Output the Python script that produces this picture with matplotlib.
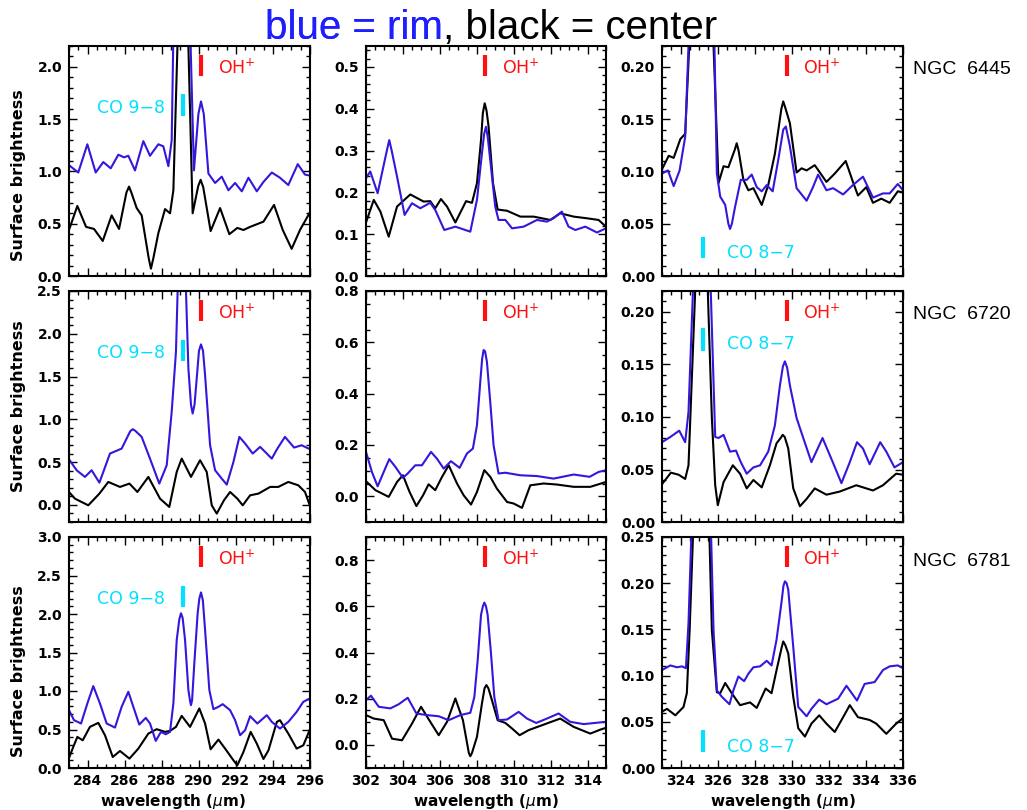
import matplotlib
matplotlib.use('Agg')
import matplotlib.pyplot as plt
from matplotlib.ticker import MultipleLocator, FormatStrFormatter
import matplotlib.transforms as mtransforms

plt.rcParams['font.family'] = ['Liberation Sans', 'DejaVu Sans']
plt.rcParams['mathtext.fontset'] = 'dejavusans'

# ---------------- data (wavelength um, surface brightness) ----------------
objects = ['NGC  6445', 'NGC  6720', 'NGC  6781']
x_ranges = [(283, 296), (302, 315), (323, 336)]
x_tick_labels = [[284, 286, 288, 290, 292, 294, 296],
                 [302, 304, 306, 308, 310, 312, 314],
                 [324, 326, 328, 330, 332, 334, 336]]
y_limits = [[(0, 2.2), (0, 0.55), (0, 0.22)],
            [(-0.2, 2.5), (-0.1, 0.8), (0, 0.22)],
            [(0, 3.0), (-0.1, 0.9), (0, 0.25)]]
y_major = [[0.5, 0.1, 0.05], [0.5, 0.2, 0.05], [0.5, 0.2, 0.05]]
y_minor = [[0.1, 0.02, 0.01], [0.1, 0.05, 0.01], [0.1, 0.05, 0.01]]

oh_lines = [290.12, 308.45, 329.73]
co98_line = 289.13
co87_line = 325.2

# NGC 6445
n6445_a_rim = [(283.00, 1.06), (283.50, 0.99), (283.99, 1.26), (284.44, 0.99), (284.85, 1.09), (285.25, 1.03),
               (285.66, 1.16), (285.97, 1.135), (286.20, 1.15), (286.56, 1.01), (287.01, 1.29), (287.37, 1.15),
               (287.82, 1.26), (288.09, 1.24), (288.36, 1.05), (288.54, 1.30), (288.62, 2.2), (289.08, 3.6),
               (289.56, 2.2), (289.74, 1.01), (289.98, 1.55), (290.12, 1.67), (290.27, 1.55), (290.52, 0.98),
               (290.88, 0.89), (291.24, 0.95),
               (291.60, 0.82), (291.96, 0.89), (292.32, 0.81), (292.68, 0.94), (293.13, 0.81), (293.49, 0.90),
               (293.94, 0.99), (294.38, 0.94), (294.83, 0.87), (295.34, 1.07), (295.73, 0.97), (296.00, 0.96)]
n6445_a_center = [(283.00, 0.44), (283.45, 0.67), (283.92, 0.47), (284.35, 0.45), (284.82, 0.335), (285.30, 0.58),
                  (285.70, 0.45), (286.10, 0.80), (286.24, 0.855), (286.38, 0.79), (286.65, 0.65), (286.92, 0.58),
                  (287.30, 0.17), (287.42, 0.07), (287.55, 0.17), (287.82, 0.41),
                  (288.18, 0.64), (288.45, 0.60), (288.63, 0.82), (288.85, 2.2), (289.13, 3.3), (289.44, 2.2),
                  (289.67, 0.60), (289.97, 0.86), (290.10, 0.92), (290.24, 0.85), (290.64, 0.43), (291.15, 0.65),
                  (291.65, 0.40), (292.08, 0.46),
                  (292.41, 0.44), (292.77, 0.47), (293.49, 0.52), (294.06, 0.68), (294.53, 0.44), (295.01, 0.26),
                  (295.46, 0.44), (296.00, 0.61)]
n6445_b_rim = [(302.00, 0.234), (302.23, 0.25), (302.63, 0.198), (303.13, 0.30), (303.26, 0.325), (303.39, 0.30),
               (303.68, 0.238), (304.09, 0.146),
               (304.49, 0.174), (304.94, 0.162), (305.48, 0.175), (305.75, 0.158), (306.24, 0.11), (306.84, 0.118),
               (307.65, 0.106), (308.01, 0.182), (308.28, 0.293), (308.40, 0.34), (308.50, 0.357), (308.60, 0.33),
               (308.73, 0.277), (309.00, 0.166),
               (309.18, 0.134), (309.55, 0.134), (309.91, 0.114), (310.54, 0.118), (311.26, 0.134), (311.80, 0.130),
               (312.16, 0.138), (312.61, 0.154), (312.97, 0.118), (313.34, 0.11), (313.88, 0.118), (314.51, 0.104),
               (315.00, 0.114)]
n6445_b_center = [(302.00, 0.128), (302.42, 0.182), (302.78, 0.154), (303.23, 0.094), (303.68, 0.166), (304.40, 0.195),
                  (305.12, 0.178), (305.48, 0.179), (305.75, 0.162), (306.06, 0.184), (306.39, 0.166), (306.84, 0.128),
                  (307.42, 0.179), (307.74, 0.175), (308.01, 0.222), (308.23, 0.325), (308.33, 0.39), (308.43, 0.413),
                  (308.53, 0.395), (308.64, 0.357),
                  (308.88, 0.222), (309.13, 0.159), (309.64, 0.156), (310.36, 0.142), (311.08, 0.142), (311.98, 0.134),
                  (312.52, 0.15), (313.25, 0.142), (313.97, 0.138), (314.60, 0.134), (315.00, 0.118)]
n6445_c_rim = [(323.00, 0.098), (323.32, 0.101), (323.63, 0.086), (323.95, 0.101), (324.25, 0.133), (324.43, 0.22),
               (325.13, 0.60), (325.83, 0.22), (325.96, 0.098), (326.14, 0.076), (326.41, 0.068), (326.58, 0.050),
               (326.67, 0.045), (326.77, 0.050),
               (326.94, 0.066), (327.25, 0.092), (327.57, 0.092), (327.84, 0.097), (328.11, 0.085), (328.38, 0.081),
               (328.65, 0.087), (328.97, 0.081), (329.27, 0.111), (329.54, 0.140), (329.68, 0.143), (329.90, 0.124),
               (330.26, 0.084), (330.80, 0.072), (331.12, 0.084), (331.42, 0.097), (331.87, 0.082), (332.23, 0.084),
               (332.77, 0.078), (333.30, 0.087), (333.84, 0.095), (334.38, 0.075), (334.92, 0.079), (335.28, 0.079),
               (335.72, 0.088), (336.00, 0.082)]
n6445_c_center = [(323.00, 0.102), (323.36, 0.115), (323.63, 0.113), (323.99, 0.131), (324.25, 0.136), (324.47, 0.22),
                  (325.13, 0.50), (325.78, 0.22), (326.05, 0.089), (326.32, 0.105), (326.58, 0.104), (326.93, 0.121),
                  (327.03, 0.127), (327.13, 0.120),
                  (327.39, 0.092), (327.66, 0.082), (327.93, 0.084), (328.38, 0.068), (328.73, 0.087), (329.09, 0.117),
                  (329.44, 0.160), (329.54, 0.167), (329.65, 0.161), (329.90, 0.146), (330.26, 0.099), (330.53, 0.103),
                  (330.80, 0.101), (331.24, 0.106),
                  (331.87, 0.090), (332.32, 0.098), (332.91, 0.110), (333.30, 0.090), (333.57, 0.077), (334.02, 0.085),
                  (334.38, 0.070), (334.83, 0.074), (335.28, 0.070), (335.72, 0.081), (336.00, 0.080)]

# NGC 6720
n6720_a_rim = [(283.00, 0.533), (283.41, 0.405), (283.86, 0.327), (284.22, 0.405), (284.64, 0.26), (285.21, 0.60),
               (285.84, 0.658), (286.30, 0.86), (286.44, 0.885), (286.58, 0.865), (286.92, 0.795), (287.37, 0.54),
               (287.87, 0.249), (288.27, 0.463),
               (288.54, 1.09), (288.77, 1.79), (288.86, 2.5), (289.08, 3.2), (289.31, 2.5), (289.44, 1.595),
               (289.58, 1.17), (289.67, 1.068), (289.77, 1.17), (289.89, 1.478), (290.01, 1.80), (290.12, 1.876),
               (290.23, 1.80), (290.34, 1.517), (290.61, 0.697), (290.88, 0.405),
               (291.24, 0.307), (291.51, 0.237), (291.87, 0.502), (292.19, 0.795), (292.50, 0.717), (292.91, 0.60),
               (293.31, 0.678), (293.94, 0.541), (294.24, 0.658), (294.65, 0.795), (295.14, 0.67), (295.55, 0.697),
               (296.00, 0.65)]
n6720_a_center = [(283.00, 0.151), (283.32, 0.073), (284.04, -0.005), (284.64, 0.132), (285.12, 0.268), (285.75, 0.21),
                  (286.26, 0.249), (286.69, 0.151), (287.28, 0.327), (287.91, 0.073), (288.41, -0.024), (288.81, 0.385),
                  (289.08, 0.541), (289.58, 0.327), (290.07, 0.522), (290.43, 0.385), (290.70, -0.005), (290.97, -0.102),
                  (291.36, 0.054), (291.69, 0.151), (292.08, 0.073), (292.37, -0.005), (292.77, 0.112), (293.22, 0.132),
                  (293.85, 0.21), (294.29, 0.21), (294.83, 0.268), (295.37, 0.229), (295.73, 0.151), (296.00, -0.013)]
n6720_b_rim = [(302.00, 0.173), (302.32, 0.095), (302.63, 0.039), (302.96, 0.095), (303.26, 0.145), (303.59, 0.115),
               (304.00, 0.072), (304.26, 0.089), (304.67, 0.121), (305.03, 0.121), (305.52, 0.173), (305.84, 0.147),
               (306.21, 0.108), (306.60, 0.137), (307.07, 0.111), (307.47, 0.167), (307.79, 0.186), (308.01, 0.277),
               (308.19, 0.446), (308.29, 0.535), (308.37, 0.570), (308.45, 0.565), (308.55, 0.524), (308.73, 0.368),
               (308.91, 0.199), (309.18, 0.089),
               (309.55, 0.092), (310.36, 0.082), (311.26, 0.079), (312.16, 0.069), (313.25, 0.085), (314.11, 0.076),
               (314.60, 0.095), (315.00, 0.102)]
n6720_b_center = [(302.00, 0.059), (302.51, 0.024), (303.23, -0.002), (303.68, 0.056), (304.00, 0.082), (304.36, 0.017),
                  (304.73, -0.038), (305.09, 0.004), (305.39, 0.047), (305.75, 0.024), (306.12, 0.076), (306.48, 0.121),
                  (306.93, 0.050), (307.29, 0.004), (307.69, -0.032), (308.01, 0.017), (308.41, 0.102), (308.73, 0.076),
                  (309.09, 0.030), (309.64, -0.022), (310.00, -0.028), (310.45, -0.045), (310.90, 0.043), (311.62, 0.050),
                  (312.34, 0.046), (313.25, 0.037), (314.15, 0.037), (315.00, 0.056)]
n6720_c_rim = [(323.00, 0.076), (323.45, 0.081), (323.93, 0.087), (324.25, 0.076), (324.43, 0.105), (324.67, 0.22),
               (325.15, 0.50), (325.63, 0.22), (325.87, 0.081), (326.05, 0.080), (326.32, 0.083), (326.67, 0.067),
               (326.99, 0.068), (327.25, 0.057), (327.57, 0.046), (327.93, 0.052), (328.29, 0.054), (328.73, 0.067),
               (329.09, 0.092), (329.36, 0.130), (329.52, 0.148), (329.63, 0.153), (329.75, 0.147), (329.90, 0.130),
               (330.26, 0.099), (330.62, 0.080),
               (331.06, 0.057), (331.66, 0.080), (332.14, 0.060), (332.68, 0.037), (333.13, 0.057), (333.52, 0.076),
               (333.84, 0.070), (334.20, 0.055), (334.77, 0.076), (335.10, 0.067), (335.54, 0.052), (336.00, 0.057)]
n6720_c_center = [(323.00, 0.036), (323.48, 0.047), (323.90, 0.045), (324.25, 0.041), (324.43, 0.054), (324.79, 0.22),
                  (325.15, 0.40), (325.47, 0.22), (325.69, 0.099), (325.87, 0.035), (326.01, 0.016), (326.32, 0.038),
                  (326.82, 0.054), (327.21, 0.046), (327.57, 0.032), (327.93, 0.040), (328.38, 0.033), (328.82, 0.054),
                  (329.18, 0.075), (329.40, 0.080), (329.51, 0.083), (329.62, 0.081), (329.81, 0.070), (330.08, 0.032),
                  (330.44, 0.015), (330.80, 0.022),
                  (331.24, 0.032), (331.87, 0.026), (332.59, 0.029), (333.48, 0.035), (334.38, 0.030), (334.92, 0.035),
                  (335.63, 0.046), (336.00, 0.045)]

# NGC 6781
n6781_a_rim = [(283.00, 0.751), (283.27, 0.621), (283.65, 0.578), (283.99, 0.838), (284.31, 1.064), (284.67, 0.838),
               (285.03, 0.578), (285.48, 0.525), (285.84, 0.795), (286.20, 0.99), (286.47, 0.795), (286.79, 0.564),
               (287.14, 0.651), (287.37, 0.578), (287.68, 0.352), (287.96, 0.469), (288.22, 0.438), (288.45, 0.469),
               (288.63, 0.838), (288.81, 1.663), (288.95, 1.93), (289.04, 2.01), (289.13, 1.95), (289.26, 1.663),
               (289.44, 1.012), (289.53, 0.87), (289.58, 0.816), (289.64, 0.88),
               (289.76, 1.359), (289.94, 2.01), (290.03, 2.2), (290.12, 2.28), (290.22, 2.18), (290.34, 1.793),
               (290.57, 1.012), (290.79, 0.764),
               (291.06, 0.795), (291.29, 0.829), (291.69, 0.751), (291.96, 0.621), (292.23, 0.426), (292.50, 0.491),
               (292.77, 0.673), (293.16, 0.578), (293.67, 0.686), (293.94, 0.599), (294.38, 0.512), (294.83, 0.599),
               (295.28, 0.729), (295.64, 0.86), (296.00, 0.903)]
n6781_a_center = [(283.00, 0.130), (283.23, 0.274), (283.45, 0.404), (283.74, 0.360), (284.13, 0.534), (284.58, 0.586),
                  (284.94, 0.426), (285.36, 0.143), (285.75, 0.221), (286.26, 0.122), (286.74, 0.252), (287.28, 0.447),
                  (287.73, 0.504), (288.18, 0.469), (288.45, 0.482), (288.77, 0.534), (289.08, 0.677), (289.53, 0.534),
                  (290.03, 0.773), (290.34, 0.578), (290.64, 0.243), (291.06, 0.369), (291.42, 0.252), (291.87, 0.100),
                  (292.08, 0.035), (292.41, 0.208), (292.80, 0.469), (293.13, 0.317), (293.49, 0.117), (293.76, 0.230),
                  (294.21, 0.599), (294.38, 0.621), (294.83, 0.447), (295.28, 0.252), (295.64, 0.295), (296.00, 0.504)]
n6781_b_rim = [(302.00, 0.194), (302.27, 0.213), (302.69, 0.165), (303.32, 0.158), (303.77, 0.176), (304.26, 0.204),
               (304.73, 0.136), (305.30, 0.129), (305.94, 0.124), (306.48, 0.107), (307.11, 0.129), (307.65, 0.139),
               (307.87, 0.208), (308.05, 0.367), (308.23, 0.563), (308.33, 0.600), (308.41, 0.616), (308.50, 0.600),
               (308.59, 0.563), (308.77, 0.396),
               (308.95, 0.208), (309.18, 0.107), (309.64, 0.110), (310.27, 0.143), (310.72, 0.114), (311.22, 0.095),
               (311.80, 0.114), (312.43, 0.136), (313.06, 0.100), (313.79, 0.090), (315.00, 0.100)]
n6781_b_center = [(302.00, 0.129), (302.42, 0.114), (302.96, 0.107), (303.41, 0.027), (303.95, 0.020), (304.49, 0.092),
                  (304.98, 0.165), (305.48, 0.100), (305.94, 0.042), (306.39, 0.100), (306.84, 0.201), (307.25, 0.107),
                  (307.57, -0.035), (307.65, -0.049), (307.74, -0.035), (308.01, 0.035), (308.28, 0.179),
                  (308.42, 0.245), (308.52, 0.259), (308.63, 0.245), (308.82, 0.194), (309.13, 0.107),
                  (309.55, 0.095), (309.91, 0.071), (310.32, 0.042), (310.81, 0.064), (311.53, 0.085), (312.52, 0.114),
                  (313.25, 0.078), (314.15, 0.049), (314.69, 0.066), (315.00, 0.074)]
n6781_c_rim = [(323.00, 0.106), (323.45, 0.111), (323.81, 0.109), (324.08, 0.110), (324.29, 0.108), (324.43, 0.157),
               (324.58, 0.25), (325.11, 0.60), (325.65, 0.25), (325.78, 0.149), (325.96, 0.084), (326.23, 0.077),
               (326.64, 0.069), (326.85, 0.084), (327.12, 0.099), (327.43, 0.094), (327.66, 0.102), (327.93, 0.109),
               (328.29, 0.110), (328.65, 0.116), (328.91, 0.111), (329.18, 0.139), (329.45, 0.180), (329.55, 0.197),
               (329.63, 0.202), (329.72, 0.200),
               (329.81, 0.193), (330.08, 0.131), (330.35, 0.066), (330.80, 0.056), (331.06, 0.064), (331.48, 0.074),
               (331.87, 0.069), (332.50, 0.075), (332.95, 0.089), (333.52, 0.073), (333.93, 0.091), (334.47, 0.093),
               (334.92, 0.106), (335.28, 0.110), (335.72, 0.111), (336.00, 0.108)]
n6781_c_center = [(323.00, 0.061), (323.27, 0.064), (323.72, 0.057), (324.16, 0.066), (324.34, 0.081), (324.49, 0.149),
                  (324.67, 0.25), (325.11, 0.50), (325.56, 0.25), (325.69, 0.149), (325.96, 0.082), (326.14, 0.081),
                  (326.41, 0.092), (326.76, 0.081), (327.21, 0.068), (327.75, 0.071), (328.11, 0.065), (328.59, 0.086),
                  (328.91, 0.081), (329.18, 0.106), (329.45, 0.130), (329.54, 0.137), (329.65, 0.133), (329.81, 0.124),
                  (330.08, 0.077), (330.35, 0.043),
                  (330.71, 0.034), (331.06, 0.048), (331.48, 0.057), (331.87, 0.048), (332.32, 0.039), (332.77, 0.055),
                  (333.13, 0.068), (333.57, 0.055), (334.20, 0.052), (334.56, 0.048), (335.10, 0.037), (335.63, 0.048),
                  (336.00, 0.054)]

rim_series = [[n6445_a_rim, n6445_b_rim, n6445_c_rim],
              [n6720_a_rim, n6720_b_rim, n6720_c_rim],
              [n6781_a_rim, n6781_b_rim, n6781_c_rim]]
center_series = [[n6445_a_center, n6445_b_center, n6445_c_center],
                 [n6720_a_center, n6720_b_center, n6720_c_center],
                 [n6781_a_center, n6781_b_center, n6781_c_center]]

# ---------------- styling / layout ----------------
RIM_COLOR = '#3218dc'
TITLE_BLUE = '#1e1eff'
OH_COLOR = '#ff1010'
CO_COLOR = '#00e1ff'
ANNOT_FONT = 'DejaVu Sans'

W, H = 1027, 810
fig = plt.figure(figsize=(W / 100, H / 100), dpi=100)

col_left = [69, 366, 662]
col_width = [241, 240, 241]
row_top = [46, 291, 537]
row_height = [230, 231, 231]

co87_place = [(0.08, 0.17, 0.10), (0.74, 0.84, 0.77), (0.07, 0.165, 0.09)]
ylabel_y = [0.44, 0.5, 0.42]

for r in range(3):
    for c in range(3):
        left = col_left[c] / W
        bottom = 1 - (row_top[r] + row_height[r]) / H
        ax = fig.add_axes([left, bottom, col_width[c] / W, row_height[r] / H])
        rim = rim_series[r][c]
        cen = center_series[r][c]
        ax.plot([p[0] for p in cen], [p[1] for p in cen], color='black', lw=1.5,
                solid_joinstyle='round', solid_capstyle='round')
        ax.plot([p[0] for p in rim], [p[1] for p in rim], color=RIM_COLOR, lw=1.5,
                solid_joinstyle='round', solid_capstyle='round')
        ax.set_xlim(*x_ranges[c])
        ax.set_ylim(*y_limits[r][c])
        ax.set_xticks(x_tick_labels[c])
        ax.xaxis.set_minor_locator(MultipleLocator(0.5))
        ax.yaxis.set_major_locator(MultipleLocator(y_major[r][c]))
        ax.yaxis.set_minor_locator(MultipleLocator(y_minor[r][c]))
        fmt = '%.2f' if y_major[r][c] < 0.1 else '%.1f'
        ax.yaxis.set_major_formatter(FormatStrFormatter(fmt))
        ax.tick_params(which='both', direction='in', top=True, right=True, width=1.0)
        ax.tick_params(which='major', length=6)
        ax.tick_params(which='minor', length=3)
        ax.tick_params(axis='y', labelsize=10, pad=5)
        ax.tick_params(axis='x', labelsize=10, pad=4)
        for lab in ax.get_yticklabels() + ax.get_xticklabels():
            lab.set_fontweight('bold')
            lab.set_family('DejaVu Sans')
        for sp in ax.spines.values():
            sp.set_linewidth(1.5)
        if r < 2:
            ax.set_xticklabels([])
        else:
            ax.set_xlabel(r'wavelength ($\mu$m)', fontsize=11, fontweight='bold', family='DejaVu Sans')
            ax.xaxis.set_label_coords(0.43 if c == 0 else 0.5, -0.105)
        if c == 0:
            ax.set_ylabel('Surface brightness', fontsize=11.5, fontweight='bold', family='DejaVu Sans')
            ax.yaxis.set_label_coords(-0.18, ylabel_y[r])

        trans = mtransforms.blended_transform_factory(ax.transData, ax.transAxes)
        ax.plot([oh_lines[c], oh_lines[c]], [0.87, 0.96], color=OH_COLOR, lw=3, transform=trans,
                solid_capstyle='butt', clip_on=False)
        ax.text(oh_lines[c] + 0.9, 0.905, r'OH$^{+}$', color=OH_COLOR, fontsize=12.5, family=ANNOT_FONT,
                transform=trans, ha='left', va='center')
        if c == 0:
            ax.plot([co98_line, co98_line], [0.695, 0.79], color=CO_COLOR, lw=3, transform=trans,
                    solid_capstyle='butt')
            ax.text(co98_line - 0.93, 0.73, 'CO 9\u22128', color=CO_COLOR, fontsize=12.5, family=ANNOT_FONT,
                    transform=trans, ha='right', va='center')
        if c == 2:
            y0, y1, yt = co87_place[r]
            ax.plot([co87_line, co87_line], [y0, y1], color=CO_COLOR, lw=3, transform=trans,
                    solid_capstyle='butt')
            ax.text(co87_line + 1.3, yt, 'CO 8\u22127', color=CO_COLOR, fontsize=12.5, family=ANNOT_FONT,
                    transform=trans, ha='left', va='center')
            ax.text(913 / W, 1 - [70, 315, 562][r] / H, objects[r], transform=fig.transFigure,
                    fontsize=14, ha='left', va='center', color='black')

# title in two colours
t1 = fig.text(265 / W, 1 - 39 / H, 'blue = rim', color=TITLE_BLUE, fontsize=29,
              ha='left', va='baseline')
fig.texts.append(t1)
plt.annotate(', black = center', xy=(1, 0), xycoords=t1, xytext=(0, 0), textcoords='offset points',
             color='black', fontsize=29, ha='left', va='bottom', annotation_clip=False)

fig.savefig('out.png', dpi=100)
